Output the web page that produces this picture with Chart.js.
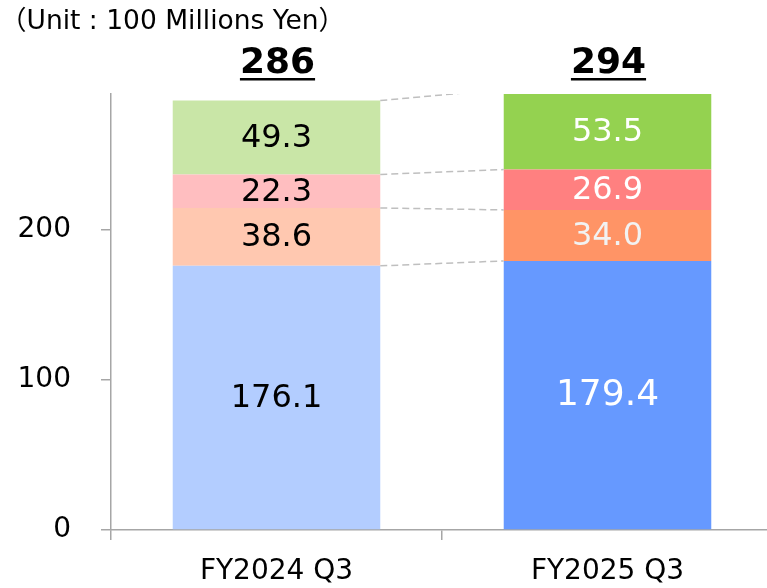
<!DOCTYPE html>
<html>
<head>
<meta charset="utf-8">
<script src="https://cdn.jsdelivr.net/npm/chart.js@4.4.1/dist/chart.umd.min.js"></script>
<style>
  html, body { margin: 0; padding: 0; background: #fff; overflow: hidden; }
  #wrap { width: 773px; height: 588px; }
</style>
</head>
<body>
<div id="wrap"><canvas id="grafico" width="773" height="588"></canvas></div>
<script>
// Datos del gráfico
const categorias = ['FY2024 Q3', 'FY2025 Q3'];
const tramoBase = [176.1, 179.4];
const tramo2 = [38.6, 34.0];
const tramo3 = [22.3, 26.9];
const tramo4 = [49.3, 53.5];
const totales = [286, 294];
const ticksY = [0, 100, 200];
const textoUnidad = '（Unit : 100 Millions Yen）';

const FUENTE = '"DejaVu Sans", "Noto Sans CJK JP", sans-serif';

// Etiquetas dentro de cada tramo
const pluginEtiquetas = {
    id: 'etiquetas',
    afterDatasetsDraw(chart) {
        const ctx = chart.ctx;
        const area = chart.chartArea;
        ctx.save();
        ctx.textAlign = 'center';
        ctx.textBaseline = 'middle';
        chart.data.datasets.forEach((ds, i) => {
            const meta = chart.getDatasetMeta(i);
            meta.data.forEach((el, j) => {
                const top = Math.max(el.y, area.top);
                const yc = (top + el.base) / 2;
                const size = (i === 0 && j === 1) ? 36 : 32;
                ctx.font = size + 'px ' + FUENTE;
                ctx.fillStyle = j === 0 ? '#000' : (i === 1 ? '#f2f2f2' : '#fff');
                ctx.fillText(ds.data[j].toFixed(1), el.x, yc + 1);
            });
        });
        ctx.restore();
    }
};

// Líneas punteadas entre barras, totales y unidad
const pluginExtras = {
    id: 'extras',
    afterDatasetsDraw(chart) {
        const ctx = chart.ctx;
        const area = chart.chartArea;
        ctx.save();
        ctx.beginPath();
        ctx.rect(area.left, area.top, area.right - area.left, area.bottom - area.top);
        ctx.clip();
        ctx.strokeStyle = '#bfbfbf';
        ctx.lineWidth = 1.5;
        ctx.setLineDash([7, 4]);
        for (let i = 0; i < chart.data.datasets.length; i++) {
            const meta = chart.getDatasetMeta(i);
            const a = meta.data[0];
            const b = meta.data[1];
            ctx.beginPath();
            ctx.moveTo(a.x + a.width / 2, a.y);
            ctx.lineTo(b.x - b.width / 2, b.y);
            ctx.stroke();
        }
        ctx.restore();

        ctx.save();
        ctx.fillStyle = '#000';
        ctx.textAlign = 'center';
        ctx.textBaseline = 'middle';
        ctx.font = 'bold 36px ' + FUENTE;
        const meta0 = chart.getDatasetMeta(0);
        totales.forEach((t, j) => {
            const x = meta0.data[j].x + 1;
            const txt = String(t);
            const w = ctx.measureText(txt).width;
            ctx.fillText(txt, x, 64);
            ctx.fillRect(x - w / 2, 78, w, 2.5);
        });
        ctx.textAlign = 'left';
        ctx.font = '26.5px ' + FUENTE;
        ctx.fillText(textoUnidad, 0, 22);
        ctx.restore();
    }
};

const ctx = document.getElementById('grafico').getContext('2d');
const grafico = new Chart(ctx, {
    type: 'bar',
    data: {
        labels: categorias,
        datasets: [
            { data: tramoBase, backgroundColor: ['#b3cdff', '#6699ff'] },
            { data: tramo2, backgroundColor: ['#ffc8b0', '#ff9466'] },
            { data: tramo3, backgroundColor: ['#ffbec0', '#ff8080'] },
            { data: tramo4, backgroundColor: ['#c9e6a7', '#94d250'] }
        ]
    },
    options: {
        responsive: false,
        animation: false,
        devicePixelRatio: 1,
        barPercentage: 0.627,
        categoryPercentage: 1,
        layout: { padding: { top: 94, left: 0, right: 0, bottom: 0 } },
        plugins: {
            legend: { display: false },
            tooltip: { enabled: false },
            title: { display: false }
        },
        scales: {
            x: {
                stacked: true,
                afterFit: (s) => { s.height = 58; },
                grid: {
                    offset: true,
                    drawOnChartArea: false,
                    drawTicks: true,
                    tickLength: 10,
                    color: '#a6a6a6',
                    lineWidth: 1.5
                },
                border: { color: '#a6a6a6', width: 1.5 },
                ticks: {
                    color: '#000',
                    padding: 15,
                    font: { family: FUENTE, size: 28 }
                }
            },
            y: {
                stacked: true,
                min: 0,
                max: 290.67,
                afterFit: (s) => { s.width = 111; },
                afterBuildTicks: (s) => { s.ticks = ticksY.map(v => ({ value: v })); },
                grid: {
                    drawOnChartArea: false,
                    drawTicks: true,
                    tickLength: 10,
                    color: '#a6a6a6',
                    lineWidth: 1.5
                },
                border: { color: '#a6a6a6', width: 1.5 },
                ticks: {
                    color: '#000',
                    padding: 30,
                    font: { family: FUENTE, size: 28 }
                }
            }
        }
    },
    plugins: [pluginEtiquetas, pluginExtras]
});
</script>
</body>
</html>
